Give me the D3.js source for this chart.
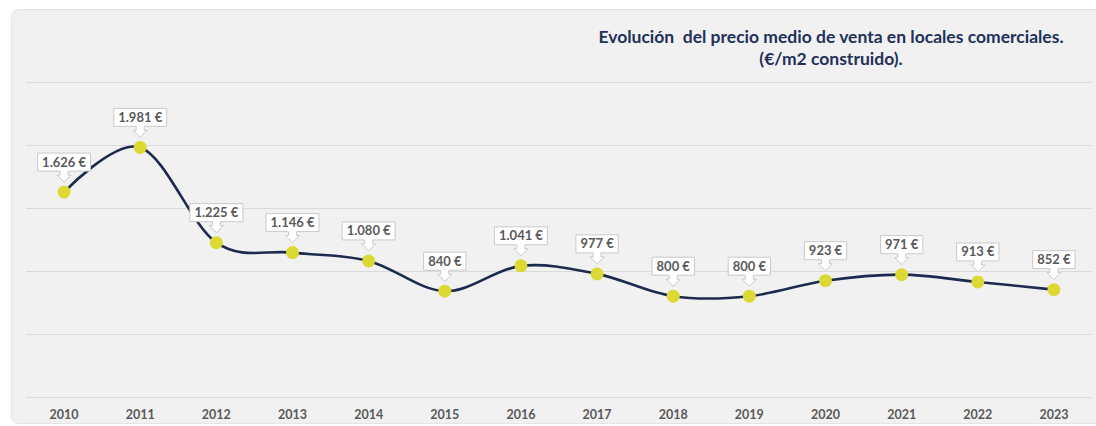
<!DOCTYPE html>
<html>
<head>
<meta charset="utf-8">
<script src="https://cdn.jsdelivr.net/npm/d3@7"></script>
<style>
	body { margin: 0; background: #fff; }
	svg { display: block; font-family: Lato, "Open Sans", sans-serif; }
	.title { white-space: pre; }
</style>
</head>
<body>
<div id="chart"></div>
<script>
	var years = ['2010', '2011', '2012', '2013', '2014', '2015', '2016', '2017', '2018', '2019', '2020', '2021', '2022', '2023'];
	var prices = [1626, 1981, 1225, 1146, 1080, 840, 1041, 977, 800, 800, 923, 971, 913, 852];
	var priceLabels = ['1.626 €', '1.981 €', '1.225 €', '1.146 €', '1.080 €', '840 €', '1.041 €', '977 €', '800 €', '800 €', '923 €', '971 €', '913 €', '852 €'];
	var gridTicks = [0, 500, 1000, 1500, 2000, 2500];
	var titleLines = ['Evolución  del precio medio de venta en locales comerciales.', '(€/m2 construido).'];

	var width = 1096, height = 426;
	var svg = d3.select('#chart').append('svg')
		.attr('width', width)
		.attr('height', height);

	// chart panel
	svg.append('rect')
		.attr('x', 11.5).attr('y', 9.5)
		.attr('width', 1100).attr('height', 414)
		.attr('rx', 7)
		.attr('fill', '#f1f1f1')
		.attr('stroke', '#e4e4e4');

	var x = d3.scaleBand().domain(years).range([26, 1092]);
	var y = d3.scaleLinear().domain([0, 2500]).range([397, 82]);

	// gridlines
	svg.append('g').selectAll('line')
		.data(gridTicks)
		.enter().append('line')
		.attr('x1', 26).attr('x2', 1092)
		.attr('y1', function (d) { return Math.round(y(d)) + 0.5; })
		.attr('y2', function (d) { return Math.round(y(d)) + 0.5; })
		.attr('stroke', '#dadada')
		.attr('stroke-width', 1);

	// year axis
	var xAxis = svg.append('g')
		.attr('transform', 'translate(0,397)')
		.call(d3.axisBottom(x).tickSize(0).tickPadding(13));
	xAxis.select('.domain').remove();
	xAxis.selectAll('text')
		.attr('font-family', 'Lato, sans-serif')
		.attr('font-size', 12.5)
		.attr('font-weight', 'bold')
		.attr('fill', '#595959');

	// title
	svg.append('g').selectAll('text')
		.data(titleLines)
		.enter().append('text')
		.attr('class', 'title')
		.attr('x', 831)
		.attr('y', function (d, i) { return 43 + i * 22; })
		.attr('text-anchor', 'middle')
		.attr('font-size', 17.5)
		.attr('font-weight', 'bold')
		.attr('fill', '#22305a')
		.text(function (d) { return d; });

	var cx = function (d, i) { return x(years[i]) + x.bandwidth() / 2; };

	// smooth line
	var line = d3.line()
		.x(function (d, i) { return cx(d, i); })
		.y(function (d) { return y(d); })
		.curve(d3.curveCardinal.tension(0));
	svg.append('path')
		.datum(prices)
		.attr('d', line)
		.attr('fill', 'none')
		.attr('stroke', '#1b2a4e')
		.attr('stroke-width', 2.6);

	// markers
	svg.append('g').selectAll('circle')
		.data(prices)
		.enter().append('circle')
		.attr('cx', cx)
		.attr('cy', function (d) { return y(d); })
		.attr('r', 6.5)
		.attr('fill', '#dcd934');

	// callout labels
	var labels = svg.append('g').selectAll('g')
		.data(prices)
		.enter().append('g')
		.attr('transform', function (d, i) {
			return 'translate(' + cx(d, i) + ',' + y(d) + ')';
		});

	labels.each(function (d, i) {
		var g = d3.select(this);
		var t = g.append('text')
			.attr('y', -25.5)
			.attr('text-anchor', 'middle')
			.attr('font-size', 13)
			.attr('font-weight', 'bold')
			.attr('fill', '#595959')
			.text(priceLabels[i]);
		var w = t.node().getComputedTextLength() + 9;
		var hw = w / 2, top = -39, bot = -21;
		var p = 'M' + (-hw) + ',' + top + 'H' + hw + 'V' + bot +
			'H4V-17H7L0,-10L-7,-17H-4V' + bot + 'H' + (-hw) + 'Z';
		g.insert('path', 'text')
			.attr('d', p)
			.attr('fill', '#fff')
			.attr('stroke', '#c9c9c9')
			.attr('stroke-width', 1);
	});
</script>
</body>
</html>
